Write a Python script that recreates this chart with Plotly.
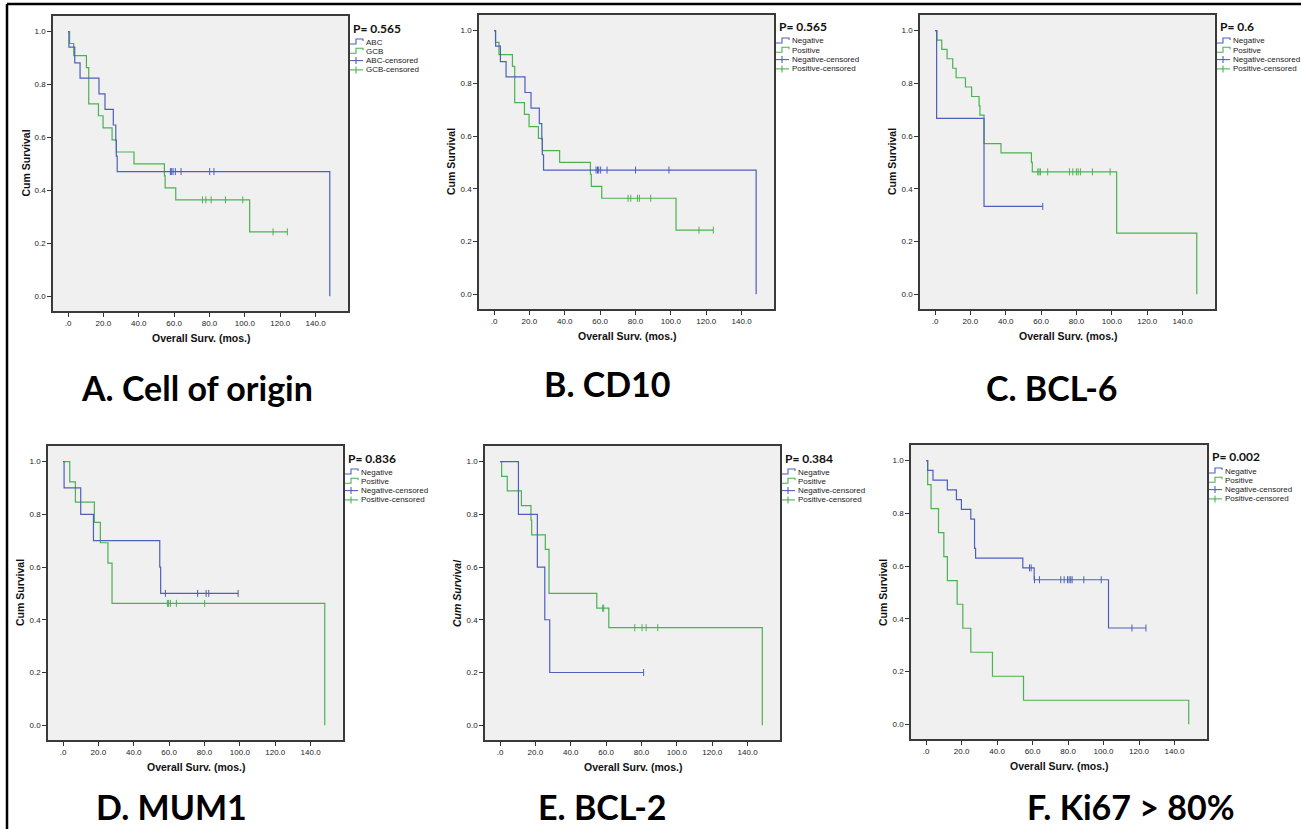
import plotly.graph_objects as go

W, H = 1301, 829
BLUE = "#4f5fbd"
GREEN = "#4cb152"

# ---------------- data ----------------
x_tick_vals = [0, 20, 40, 60, 80, 100, 120, 140]
x_tick_text = [".0", "20.0", "40.0", "60.0", "80.0", "100.0", "120.0", "140.0"]
y_tick_vals = [0.0, 0.2, 0.4, 0.6, 0.8, 1.0]
y_tick_text = ["0.0", "0.2", "0.4", "0.6", "0.8", "1.0"]

panel_titles = ["A. Cell of origin", "B. CD10", "C. BCL-6", "D. MUM1", "E. BCL-2", "F. Ki67 > 80%"]
p_values = ["P= 0.565", "P= 0.565", "P= 0.6", "P= 0.836", "P= 0.384", "P= 0.002"]
group_names = [["ABC", "GCB"], ["Negative", "Positive"], ["Negative", "Positive"],
               ["Negative", "Positive"], ["Negative", "Positive"], ["Negative", "Positive"]]

# Panel A - Cell of origin
a_blue_time = [0.5, 3.8, 6.8, 17.5, 20.9, 25.6, 27.0, 27.3, 27.8, 148.0]
a_blue_surv = [0.941, 0.882, 0.824, 0.765, 0.706, 0.647, 0.588, 0.529, 0.471, 0.0]
a_blue_cens_time = [57.9, 58.6, 59.4, 60.7, 63.9, 80.1, 82.5]
a_blue_cens_surv = [0.471, 0.471, 0.471, 0.471, 0.471, 0.471, 0.471]
a_green_time = [0.9, 3.2, 10.4, 11.7, 17.2, 19.8, 24.9, 27.3, 37.3, 54.5, 54.9, 60.9, 102.7]
a_green_surv = [0.955, 0.909, 0.864, 0.727, 0.682, 0.636, 0.591, 0.545, 0.5, 0.455, 0.409, 0.364, 0.243]
a_green_cens_time = [76.0, 77.9, 80.9, 89.0, 98.8, 115.9, 124.0]
a_green_cens_surv = [0.364, 0.364, 0.364, 0.364, 0.364, 0.243, 0.243]

# Panel B - CD10
b_blue_time = [0.9, 3.6, 6.8, 17.5, 20.9, 25.6, 27.0, 27.3, 28.0, 148.2]
b_blue_surv = [0.941, 0.882, 0.824, 0.765, 0.706, 0.647, 0.588, 0.529, 0.471, 0.0]
b_blue_cens_time = [57.7, 58.5, 59.2, 60.3, 63.9, 80.0, 98.9]
b_blue_cens_surv = [0.471, 0.471, 0.471, 0.471, 0.471, 0.471, 0.471]
b_green_time = [0.8, 2.8, 10.4, 11.7, 17.2, 19.8, 25.1, 27.3, 37.1, 54.5, 55.0, 60.9, 102.9]
b_green_surv = [0.955, 0.909, 0.864, 0.727, 0.682, 0.636, 0.591, 0.545, 0.5, 0.455, 0.409, 0.364, 0.243]
b_green_cens_time = [75.8, 77.3, 81.1, 82.2, 88.6, 115.9, 124.0]
b_green_cens_surv = [0.364, 0.364, 0.364, 0.364, 0.364, 0.243, 0.243]

# Panel C - BCL-6
c_blue_time = [0.9, 27.7]
c_blue_surv = [0.667, 0.333]
c_blue_cens_time = [60.9]
c_blue_cens_surv = [0.333]
c_green_time = [1.1, 3.8, 6.8, 10.0, 11.9, 17.2, 20.7, 24.9, 25.4, 27.7, 37.3, 54.5, 55.0, 102.7, 148.0]
c_green_surv = [0.964, 0.929, 0.893, 0.857, 0.821, 0.786, 0.750, 0.714, 0.679, 0.571, 0.536, 0.500, 0.464, 0.232, 0.0]
c_green_cens_time = [58.1, 58.8, 59.6, 63.7, 76.0, 77.9, 79.9, 80.9, 82.2, 89.0, 99.0]
c_green_cens_surv = [0.464, 0.464, 0.464, 0.464, 0.464, 0.464, 0.464, 0.464, 0.464, 0.464, 0.464]

# Panel D - MUM1
d_blue_time = [0.6, 10.0, 17.2, 54.7, 55.2]
d_blue_surv = [0.9, 0.8, 0.7, 0.6, 0.5]
d_blue_cens_time = [57.9, 76.1, 80.9, 82.4, 99.0]
d_blue_cens_surv = [0.5, 0.5, 0.5, 0.5, 0.5]
d_green_time = [3.8, 7.0, 17.7, 21.1, 25.4, 27.7, 148.0]
d_green_surv = [0.923, 0.846, 0.769, 0.692, 0.615, 0.462, 0.0]
d_green_cens_time = [59.0, 59.7, 60.7, 64.1, 80.1]
d_green_cens_surv = [0.462, 0.462, 0.462, 0.462, 0.462]

# Panel E - BCL-2
e_blue_time = [10.4, 21.1, 25.3, 28.1]
e_blue_surv = [0.8, 0.6, 0.4, 0.2]
e_blue_cens_time = [81.2]
e_blue_cens_surv = [0.2]
e_green_time = [0.9, 4.1, 12.1, 17.5, 17.9, 25.6, 27.7, 54.7, 61.5, 148.3]
e_green_surv = [0.944, 0.889, 0.833, 0.778, 0.722, 0.667, 0.5, 0.444, 0.370, 0.0]
e_green_cens_time = [58.0, 58.6, 76.2, 80.3, 82.6, 89.2]
e_green_cens_surv = [0.444, 0.444, 0.370, 0.370, 0.370, 0.370]

# Panel F - Ki67 > 80%
f_blue_time = [0.9, 3.9, 12.0, 17.1, 19.9, 25.2, 27.3, 27.9, 54.5, 60.9, 102.8]
f_blue_surv = [0.963, 0.926, 0.889, 0.852, 0.815, 0.778, 0.667, 0.630, 0.593, 0.548, 0.365]
f_blue_cens_time = [58.3, 59.2, 61.1, 63.9, 75.9, 77.8, 79.7, 80.6, 81.5, 82.3, 88.9, 98.7, 116.0, 123.9]
f_blue_cens_surv = [0.593, 0.593, 0.548, 0.548, 0.548, 0.548, 0.548, 0.548, 0.548, 0.548, 0.548, 0.548, 0.365, 0.365]
f_green_time = [0.9, 2.8, 7.0, 10.0, 12.0, 17.5, 20.7, 25.2, 37.4, 54.9, 148.0]
f_green_surv = [0.909, 0.818, 0.727, 0.636, 0.545, 0.455, 0.364, 0.273, 0.182, 0.091, 0.0]
f_green_cens_time = []
f_green_cens_surv = []

panels = [
    (a_blue_time, a_blue_surv, a_blue_cens_time, a_blue_cens_surv,
     a_green_time, a_green_surv, a_green_cens_time, a_green_cens_surv),
    (b_blue_time, b_blue_surv, b_blue_cens_time, b_blue_cens_surv,
     b_green_time, b_green_surv, b_green_cens_time, b_green_cens_surv),
    (c_blue_time, c_blue_surv, c_blue_cens_time, c_blue_cens_surv,
     c_green_time, c_green_surv, c_green_cens_time, c_green_cens_surv),
    (d_blue_time, d_blue_surv, d_blue_cens_time, d_blue_cens_surv,
     d_green_time, d_green_surv, d_green_cens_time, d_green_cens_surv),
    (e_blue_time, e_blue_surv, e_blue_cens_time, e_blue_cens_surv,
     e_green_time, e_green_surv, e_green_cens_time, e_green_cens_surv),
    (f_blue_time, f_blue_surv, f_blue_cens_time, f_blue_cens_surv,
     f_green_time, f_green_surv, f_green_cens_time, f_green_cens_surv),
]

# ---------------- layout geometry (pixels) ----------------
boxes = [(53, 16, 348, 311), (479, 15, 774, 309), (920, 15, 1215, 309),
         (48, 446, 343, 740), (485, 446, 780, 740), (911, 445, 1207, 739)]
title_pos = [(197, 388), (607, 383), (1052, 387), (171, 806), (602, 806), (1131, 806)]
X_RANGE = [-8.5, 158.3]
Y_RANGE = [-0.056, 1.059]


def px(x):
    return x / W


def py(y):
    return 1 - y / H


def step_xy(times, surv, cens_times):
    xs = [0.0] + list(times)
    ys = [1.0] + list(surv)
    if cens_times and max(cens_times) > xs[-1]:
        xs.append(max(cens_times))
        ys.append(ys[-1])
    return xs, ys


fig = go.Figure()
annotations = []
shapes = []
TICK_FONT = dict(family="Liberation Sans, Arial, sans-serif", size=8, color="#222222")

for i, (bt, bs, bct, bcs, gt, gs, gct, gcs) in enumerate(panels):
    k = "" if i == 0 else str(i + 1)
    xa, ya = "x" + k, "y" + k
    for t, s, ct, cs, col in ((gt, gs, gct, gcs, GREEN), (bt, bs, bct, bcs, BLUE)):
        xs, ys = step_xy(t, s, ct)
        fig.add_trace(go.Scatter(x=xs, y=ys, mode="lines", line=dict(color=col, width=1.2, shape="hv"),
                                 xaxis=xa, yaxis=ya, showlegend=False, hoverinfo="skip"))
        if ct:
            fig.add_trace(go.Scatter(x=ct, y=cs, mode="markers",
                                     marker=dict(symbol="line-ns", size=5, line=dict(color=col, width=1)),
                                     xaxis=xa, yaxis=ya, showlegend=False, hoverinfo="skip"))
    L, T, R, B = boxes[i]
    axis_common = dict(showline=True, mirror=True, linecolor="#3a3a3a", linewidth=1.5,
                       ticks="outside", ticklen=4, tickwidth=1, tickcolor="#333333",
                       showgrid=False, zeroline=False, tickfont=TICK_FONT, fixedrange=True)
    fig.update_layout(**{
        "xaxis" + k: dict(domain=[px(L), px(R)], range=X_RANGE, anchor=ya,
                          tickvals=x_tick_vals, ticktext=x_tick_text, **axis_common),
        "yaxis" + k: dict(domain=[py(B), py(T)], range=Y_RANGE, anchor=xa,
                          tickvals=y_tick_vals, ticktext=y_tick_text, **axis_common),
    })
    # axis titles
    annotations.append(dict(x=px((L + R) / 2), y=py(B + 27), xref="paper", yref="paper",
                            text="<b>Overall Surv. (mos.)</b>", showarrow=False,
                            font=dict(family="Liberation Sans, Arial", size=10.5, color="#111111"),
                            xanchor="center", yanchor="middle"))
    ytxt = "<b><i>Cum Survival</i></b>" if i == 4 else "<b>Cum Survival</b>"
    annotations.append(dict(x=px(L - 28), y=py((T + B) / 2), xref="paper", yref="paper",
                            text=ytxt, showarrow=False, textangle=-90,
                            font=dict(family="Liberation Sans, Arial", size=10.5, color="#111111"),
                            xanchor="center", yanchor="middle"))
    # p value
    annotations.append(dict(x=px(R + 3), y=py(T + 12), xref="paper", yref="paper",
                            text="<b>" + p_values[i] + "</b>", showarrow=False,
                            font=dict(family="Lato, sans-serif", size=12, color="#111111"),
                            xanchor="left", yanchor="middle"))
    # legend
    names = group_names[i]
    labels = [names[0], names[1], names[0] + "-censored", names[1] + "-censored"]
    cols = [BLUE, GREEN, BLUE, GREEN]
    for j in range(4):
        yy = T + 26 + j * 9.3
        annotations.append(dict(x=px(R + 16), y=py(yy), xref="paper", yref="paper",
                                text=labels[j], showarrow=False,
                                font=dict(family="Liberation Sans, Arial", size=8, color="#222222"),
                                xanchor="left", yanchor="middle"))
        if j < 2:
            path = "M {} {} L {} {} L {} {} L {} {} L {} {}".format(
                px(R + 2), py(yy + 2), px(R + 8), py(yy + 2), px(R + 8), py(yy - 3),
                px(R + 15), py(yy - 3), px(R + 15), py(yy - 1))
            shapes.append(dict(type="path", path=path, xref="paper", yref="paper",
                               line=dict(color=cols[j], width=1.1)))
        else:
            shapes.append(dict(type="line", x0=px(R + 2), x1=px(R + 15), y0=py(yy), y1=py(yy),
                               xref="paper", yref="paper", line=dict(color=cols[j], width=1.1)))
            shapes.append(dict(type="line", x0=px(R + 8), x1=px(R + 8), y0=py(yy - 3.5), y1=py(yy + 3.5),
                               xref="paper", yref="paper", line=dict(color=cols[j], width=1.1)))
    # panel title
    tx, ty = title_pos[i]
    annotations.append(dict(x=px(tx), y=py(ty), xref="paper", yref="paper",
                            text="<b>" + panel_titles[i] + "</b>", showarrow=False,
                            font=dict(family="Lato, sans-serif", size=34, color="#000000"),
                            xanchor="center", yanchor="middle"))

# outer frame (top and left edges)
shapes.append(dict(type="line", x0=px(7), x1=1, y0=py(4), y1=py(4), xref="paper", yref="paper",
                   line=dict(color="#000000", width=2.5)))
shapes.append(dict(type="line", x0=px(7), x1=px(7), y0=py(4), y1=0, xref="paper", yref="paper",
                   line=dict(color="#000000", width=2.5)))

fig.update_layout(width=W, height=H, margin=dict(l=0, r=0, t=0, b=0),
                  paper_bgcolor="#ffffff", plot_bgcolor="#f0f0f0",
                  showlegend=False, hovermode=False,
                  annotations=annotations, shapes=shapes)

fig.write_html("out.html", config={"displayModeBar": False},
               post_script="document.body.style.margin='0';")
